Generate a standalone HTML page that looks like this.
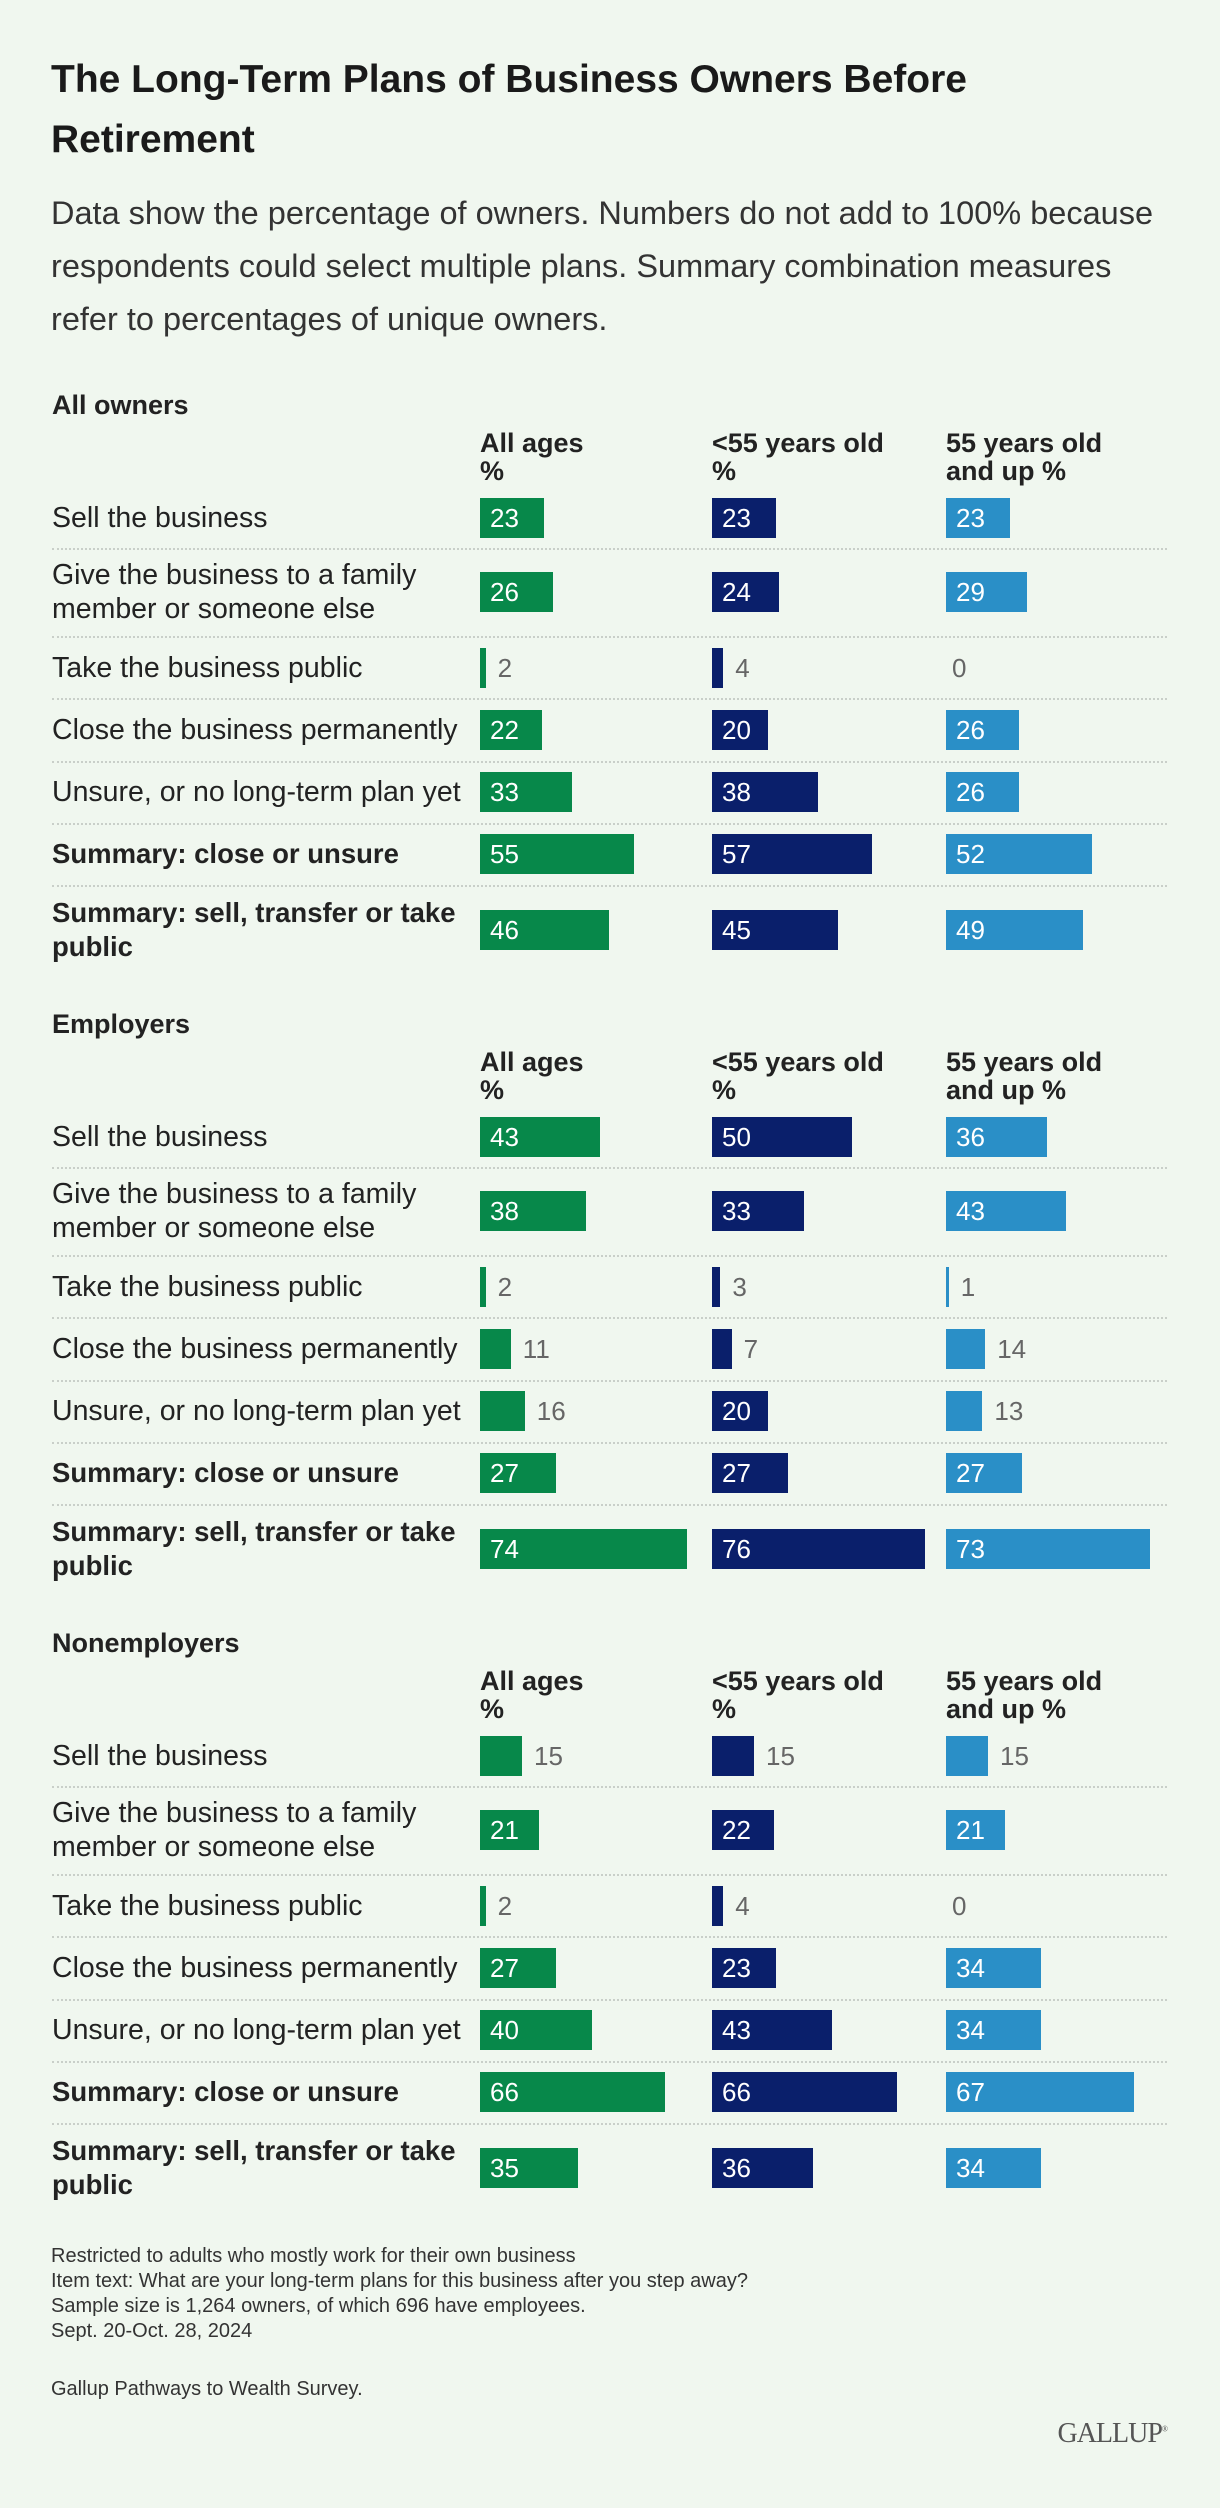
<!DOCTYPE html>
<html><head><meta charset="utf-8"><style>
html,body{margin:0;padding:0}
body{width:1220px;height:2508px;background:#f0f7ef;font-family:"Liberation Sans",sans-serif;color:#222;position:relative;overflow:hidden}
.a{position:absolute;white-space:nowrap}
h1{position:absolute;left:51px;top:50px;margin:0;font-size:39px;line-height:60px;font-weight:700;color:#1a1a1a}
.sub{left:51px;top:187px;font-size:32.5px;line-height:53px;color:#333;white-space:normal;width:1128px}
.sec{font-size:27px;font-weight:700;color:#222}
.hdr{font-size:27px;font-weight:700;line-height:28px;color:#222}
.lbl{font-size:28.5px;line-height:34px;color:#222;left:52px;transform:translateY(-50%)}
.lbl.b{font-size:27.5px;font-weight:700}
.sep{left:52px;width:1115px;height:0;border-top:2px dotted #c9cfc9}
.bar{height:40px}
.val{font-size:26px;line-height:40px}
.foot{left:51px;font-size:20px;line-height:25px;color:#333}
</style></head><body>
<h1>The Long-Term Plans of Business Owners Before<br>Retirement</h1>
<div class="a sub">Data show the percentage of owners. Numbers do not add to 100% because respondents could select multiple plans. Summary combination measures refer to percentages of unique owners.</div>
<div id="chart"></div>
<div class="a foot" style="top:2244px">Restricted to adults who mostly work for their own business<br>Item text: What are your long-term plans for this business after you step away?<br>Sample size is 1,264 owners, of which 696 have employees.<br>Sept. 20-Oct. 28, 2024</div>
<div class="a foot" style="top:2377px">Gallup Pathways to Wealth Survey.</div>
<div class="a" style="right:53px;top:2418px;font-family:'Liberation Serif',serif;font-size:28px;color:#555;letter-spacing:-1px">GALLUP<sup style="font-size:8px">®</sup></div>
<script>
const sectionNames = ["All owners","Employers","Nonemployers"];
const rowLabels = ["Sell the business","Give the business to a family<br>member or someone else","Take the business public","Close the business permanently","Unsure, or no long-term plan yet","Summary: close or unsure","Summary: sell, transfer or take<br>public"];
const boldRows = [false,false,false,false,false,true,true];
const columnHeaders = ["All ages<br>%","&lt;55 years old<br>%","55 years old<br>and up %"];
const allAges = [[23,26,2,22,33,55,46],[43,38,2,11,16,27,74],[15,21,2,27,40,66,35]];
const under55 = [[23,24,4,20,38,57,45],[50,33,3,7,20,27,76],[15,22,4,23,43,66,36]];
const over55 = [[23,29,0,26,26,52,49],[36,43,1,14,13,27,73],[15,21,0,34,34,67,34]];
const series=[allAges,under55,over55];
const colors=["#07884a","#0a1f6b","#2a8fc7"];
const colX=[480,712,946];
const pxPer=2.8;
const barTops=[498,572,648,710,772,834,910];
const seps=[548,636,698,761,823,885];
const secStep=619;
const root=document.getElementById('chart');
function mk(cls,css,html){const d=document.createElement('div');d.className='a '+cls;d.style.cssText=css;if(html!==undefined)d.innerHTML=html;root.appendChild(d);return d;}
sectionNames.forEach((name,s)=>{
  const off=s*secStep;
  const t=mk('sec','left:52px;top:'+(390+off)+'px',name);
  
  
  columnHeaders.forEach((h,c)=>{
    const e=mk('hdr','left:'+colX[c]+'px;top:'+(429+off)+'px',h);
    
    
  });
  seps.forEach(y=>{
    const e=mk('sep','top:'+(y+off)+'px');
    
    
  });
  rowLabels.forEach((lab,r)=>{
    const cy=barTops[r]+20+off;
    const l=mk('lbl'+(boldRows[r]?' b':''),'top:'+cy+'px',lab);
    
    
    series.forEach((ser,c)=>{
      const v=ser[s][r];
      const w=v*pxPer;
      const top=barTops[r]+off;
      if(v>0){
        const b=mk('bar','left:'+colX[c]+'px;top:'+top+'px;width:'+w+'px;background:'+colors[c]);
        
        
      }
      const inside=v>=20;
      const vl=mk('val','top:'+top+'px;left:'+(inside?colX[c]+10:colX[c]+w+(v>0?12:6))+'px;color:'+(inside?'#fff':'#666'),String(v));
      
      
    });
  });
});
</script>
</body></html>
